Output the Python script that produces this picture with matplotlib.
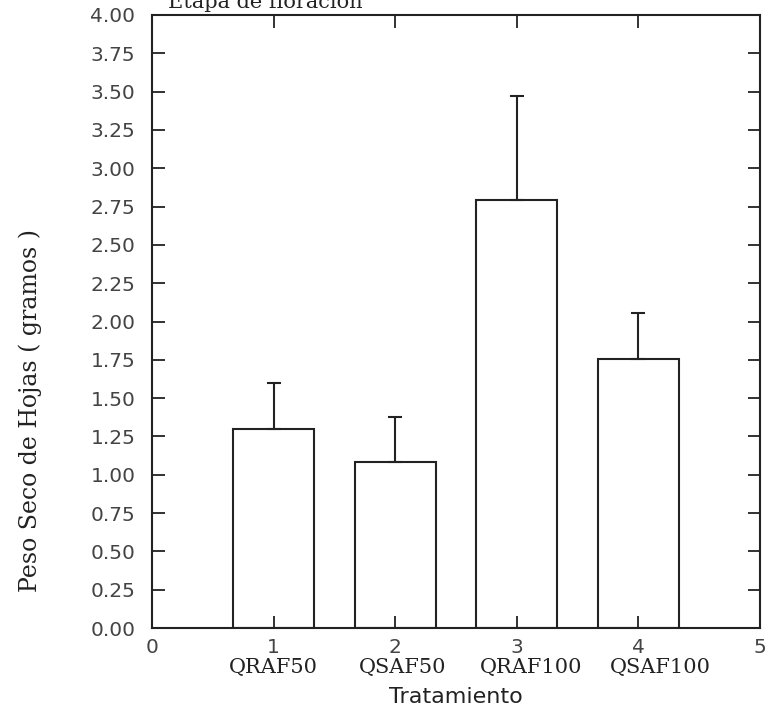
import numpy as np
import matplotlib.pyplot as plt

# Data
posiciones = [1, 2, 3, 4]
tratamientos = ["QRAF50", "QSAF50", "QRAF100", "QSAF100"]
peso_seco = [1.30, 1.08, 2.79, 1.755]
error_sup = [0.30, 0.30, 0.68, 0.30]
yticks = np.arange(0, 4.01, 0.25)
xticks = [0, 1, 2, 3, 4, 5]

fig = plt.figure(figsize=(7.66, 7.21), dpi=100)
ax = fig.add_axes([152 / 766, 93 / 721, 608 / 766, 613 / 721])

ax.bar(posiciones, peso_seco, width=0.667, fill=False, edgecolor="#222222", linewidth=1.5)
ax.errorbar(posiciones, peso_seco, yerr=[np.zeros(len(peso_seco)), error_sup],
            fmt="none", ecolor="#222222", elinewidth=1.5, capsize=5, capthick=1.5)

ax.set_xlim(0, 5)
ax.set_ylim(0, 4)
ax.set_yticks(yticks)
ax.set_yticklabels([f"{v:.2f}" for v in yticks])
ax.set_xticks(xticks)
ax.set_xticklabels([str(v) for v in xticks])

for s in ax.spines.values():
    s.set_linewidth(1.5)
    s.set_color("#222222")

ax.tick_params(direction="in", length=9, width=1.3, color="#222222",
               top=True, right=True, labelsize=14.5, labelcolor="#444444")
ax.tick_params(axis="x", pad=7)
ax.tick_params(axis="y", pad=12)

# category names below the numeric ticks (slightly spread out, as in the scan)
for p, t in zip(posiciones, tratamientos):
    ax.text(p + 0.06 * (p - 1), -0.26, t, transform=ax.transData, ha="center", va="center",
            family="DejaVu Serif", fontsize=15, color="#222222")

fig.text(456 / 766, 1 - 697 / 721, "Tratamiento", ha="center", va="center",
         family="DejaVu Sans", fontsize=16, color="#222222")
fig.text(30 / 766, 1 - 410 / 721, "Peso Seco de Hojas ( gramos )", rotation=90,
         ha="center", va="center", family="DejaVu Serif", fontsize=17, color="#222222")
fig.text(265 / 766, 0.998, "Etapa de floración", ha="center", va="center",
         family="DejaVu Serif", fontsize=15, color="#222222")

fig.savefig("out.png", dpi=100, facecolor="white")
